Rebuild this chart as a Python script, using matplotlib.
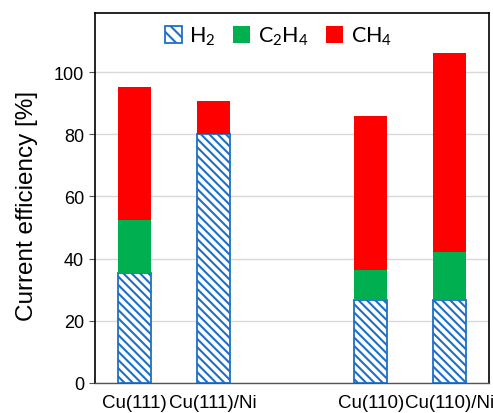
import numpy as np
import matplotlib
matplotlib.use("Agg")
import matplotlib.pyplot as plt
from matplotlib.patches import Patch

categories = ["Cu(111)", "Cu(111)/Ni", "", "Cu(110)", "Cu(110)/Ni"]
h2 = [35.4, 80.1, np.nan, 26.7, 26.7]
c2h4 = [17.1, 0.0, np.nan, 9.7, 15.3]
ch4 = [42.8, 10.7, np.nan, 49.5, 64.3]
yticks = [0, 20, 40, 60, 80, 100]

plt.rcParams['font.family'] = ['Liberation Sans', 'DejaVu Sans']
plt.rcParams['hatch.linewidth'] = 1.5
plt.rcParams['mathtext.fontset'] = 'custom'
plt.rcParams['mathtext.rm'] = 'Lato'
plt.rcParams['mathtext.it'] = 'Lato'

BLUE = '#1F6FC4'
GREEN = '#00B050'
RED = '#FF0000'
HATCH = '\\\\\\\\'

fig = plt.figure(figsize=(4.93, 4.14), dpi=100)
ax = fig.add_axes([0.1927, 0.0725, 0.7993, 0.8935])

x = np.arange(len(categories))
w = 0.42
h2a = np.array(h2)
c2a = np.array(c2h4)
ch4a = np.array(ch4)

ax.bar(x, h2a, w, color='white', edgecolor=BLUE, hatch=HATCH, linewidth=1.3, zorder=3)
ax.bar(x, c2a, w, bottom=h2a, color=GREEN, linewidth=0, zorder=3)
ax.bar(x, ch4a, w, bottom=h2a + c2a, color=RED, linewidth=0, zorder=3)

ax.set_xlim(-0.5, len(categories) - 0.5)
ax.set_ylim(0, 119)
ax.set_yticks(yticks)
ax.set_yticklabels([str(t) for t in yticks], fontsize=13)
ax.set_xticks(x)
ax.set_xticklabels(categories, fontsize=13.5)
ax.tick_params(axis='x', length=0, pad=8)
ax.tick_params(axis='y', length=4, direction='out', width=0.8, color='#555555', pad=4)
ax.yaxis.grid(True, color='#D9D9D9', linewidth=1.0, zorder=0)
ax.set_axisbelow(True)

for s in ['top', 'right', 'left']:
    ax.spines[s].set_color('black')
    ax.spines[s].set_linewidth(1.2)
ax.spines['bottom'].set_color('#555555')
ax.spines['bottom'].set_linewidth(1.0)

ax.set_ylabel('Current efficiency [%]', fontsize=17.5)
ax.yaxis.set_label_coords(-0.145, 0.48)

handles = [
    Patch(facecolor='white', edgecolor=BLUE, hatch='\\\\\\', linewidth=1.3, label=r'H$_2$'),
    Patch(facecolor=GREEN, edgecolor='none', label=r'C$_2$H$_4$'),
    Patch(facecolor=RED, edgecolor='none', label=r'CH$_4$'),
]
leg = ax.legend(handles=handles, loc='upper center', ncol=3, frameon=False,
                handlelength=0.8, handleheight=0.8, handletextpad=0.35,
                columnspacing=0.8, bbox_to_anchor=(0.465, 1.02),
                prop={'family': 'Lato', 'size': 15.5})

fig.savefig('out.png', dpi=100)
